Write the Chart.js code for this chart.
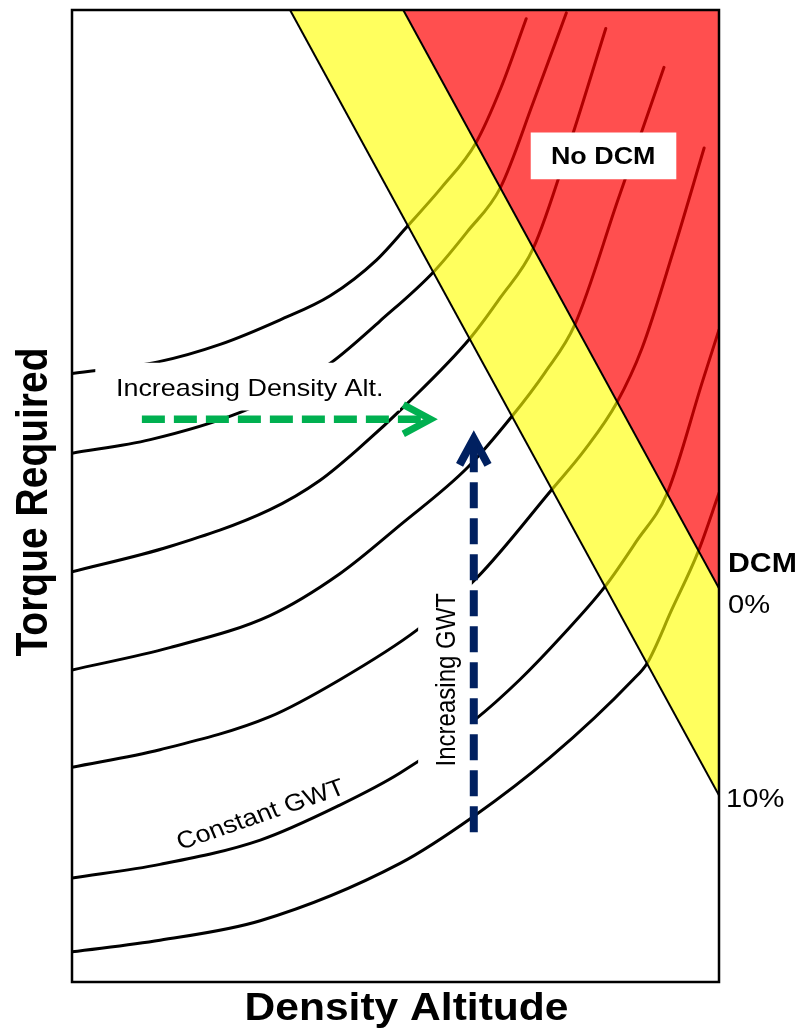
<!DOCTYPE html>
<html>
<head>
<meta charset="utf-8">
<script src="https://cdn.jsdelivr.net/npm/chart.js@4.4.1/dist/chart.umd.min.js"></script>
<style>
  html, body { margin: 0; padding: 0; background: #fff; }
  #chart { display: block; }
</style>
</head>
<body>
<canvas id="chart" width="802" height="1029"></canvas>
<script>
// Constant GWT curves (x = density altitude, y = torque required, both 0..100), heaviest on top
const gwt1 = [[0, 62.6], [13.3, 63.8], [22.9, 65.6], [32.1, 68.1], [39.9, 70.6], [47.1, 74.3], [51.9, 77.8], [57.2, 81.8], [62.4, 86.3], [66.3, 92.0], [70.2, 99.1]];
const gwt2 = [[0, 54.4], [12.1, 55.8], [26.0, 58.6], [33.7, 61.1], [40.2, 63.8], [47.6, 68.0], [55.8, 73.0], [61.1, 77.2], [66.2, 81.7], [71.3, 90.5], [76.4, 99.7]];
const gwt3 = [[0, 42.2], [15.1, 44.8], [30.6, 48.6], [38.3, 51.6], [44.5, 55.0], [51.8, 59.5], [61.5, 66.2], [66.2, 70.4], [71.3, 75.5], [77.0, 86.4], [82.5, 98.1]];
const gwt4 = [[0, 32.1], [15.1, 34.4], [30.6, 37.7], [41.4, 42.0], [50.7, 47.0], [61.1, 52.9], [68.0, 58.2], [73.1, 62.7], [77.7, 67.6], [84.4, 80.5], [91.5, 94.1]];
const gwt5 = [[0, 22.1], [13.6, 23.9], [30.6, 27.3], [41.4, 31.1], [53.3, 36.2], [62.6, 41.6], [74.2, 50.7], [79.3, 54.8], [84.2, 59.6], [88.1, 65.2], [92.9, 75.1], [97.7, 85.8]];
const gwt6 = [[0, 10.7], [13.6, 12.1], [29.1, 14.6], [41.4, 18.2], [50.7, 21.5], [62.3, 27.0], [69.2, 31.1], [75.7, 35.6], [82.4, 40.7], [87.2, 45.3], [92.0, 50.3], [97.5, 61.9], [100, 67.1]];
const gwt7 = [[0, 3.1], [13.6, 4.3], [29.1, 6.3], [50.7, 12.2], [62.0, 17.0], [73.9, 23.1], [86.7, 31.1], [88.9, 32.8], [92.7, 38.3], [96.8, 44.3], [100, 50.3]];
const gwtCurves = [gwt1, gwt2, gwt3, gwt4, gwt5, gwt6, gwt7];

// DCM band edges
const dcm10Edge = [[33.7, 100], [100, 19.2]];
const dcm0Edge = [[51.2, 100], [100, 40.5]];

// arrows
const densityArrow = [[10.8, 57.9], [54.8, 57.9]];
const densityHead = [[51.2, 59.4], [55.4, 57.9], [51.2, 56.4]];
const gwtArrow = [[62.1, 15.4], [62.1, 55.3]];
const gwtHead = [[59.9, 53.2], [62.1, 55.9], [64.3, 53.2]];

// text backgrounds [xMin, xMax, yMin, yMax]
const densityBox = [3.6, 50.7, 58.8, 63.7];
const gwtBox = [53.5, 61.8, 21.3, 41.3];
const noDcmBox = [70.9, 93.4, 82.6, 87.4];

const toPts = pts => pts.map(([x, y]) => ({x, y}));
const rect = b => [[b[0], b[2]], [b[1], b[2]], [b[1], b[3]], [b[0], b[3]]];

function line(pts, color, width, order, extra) {
    return Object.assign({
        data: toPts(pts),
        borderColor: color,
        borderWidth: width,
        pointRadius: 0,
        tension: 0,
        fill: false,
        order: order
    }, extra || {});
}

function shape(pts, color, order) {
    return line(pts, 'rgba(0,0,0,0)', 0, order, {backgroundColor: color, fill: 'shape'});
}

const datasets = [];
gwtCurves.forEach(c => datasets.push(line(c, '#000', 3, 9, {cubicInterpolationMode: 'monotone', borderCapStyle: 'round'})));
datasets.push(shape([dcm0Edge[0], [100, 100], dcm0Edge[1]], 'rgba(255,0,0,0.69)', 7));
datasets.push(shape([dcm10Edge[0], dcm0Edge[0], dcm0Edge[1], dcm10Edge[1]], 'rgba(255,255,0,0.63)', 7));
datasets.push(line(dcm10Edge, '#000', 2, 6));
datasets.push(line(dcm0Edge, '#000', 2, 6));
[densityBox, gwtBox, noDcmBox].forEach(b => datasets.push(shape(rect(b), '#fff', 5)));
datasets.push(line(densityArrow, '#00B050', 7.5, 2, {borderDash: [23, 9]}));
datasets.push(line(densityHead, '#00B050', 7, 2, {borderJoinStyle: 'miter'}));
datasets.push(line(gwtArrow, '#002060', 8, 2, {borderDash: [26, 10]}));
datasets.push(line(gwtHead, '#002060', 8, 2, {borderJoinStyle: 'miter'}));

const FONT = '"Liberation Sans", Arial, sans-serif';

function label(ctx, text, px, py, font, align, angle) {
    ctx.save();
    ctx.translate(px, py);
    ctx.scale(1.12, 1);
    ctx.rotate(angle || 0);
    ctx.font = font + ' ' + FONT;
    ctx.textAlign = align;
    ctx.textBaseline = 'alphabetic';
    ctx.fillStyle = '#000';
    ctx.fillText(text, 0, 0);
    ctx.restore();
}

const annotate = {
    id: 'annotate',
    afterDatasetsDraw(chart) {
        const {ctx, chartArea: a, scales: {x, y}} = chart;
        ctx.save();
        ctx.strokeStyle = '#000';
        ctx.lineWidth = 2.5;
        ctx.strokeRect(a.left, a.top, a.right - a.left, a.bottom - a.top);
        ctx.restore();

        label(ctx, 'Torque Required', a.left - 25, (a.top + a.bottom) / 2 + 6, 'bold 39px', 'center', -Math.PI / 2);
        label(ctx, 'Density Altitude', (a.left + a.right) / 2 + 11, a.bottom + 38, 'bold 38px', 'center');

        label(ctx, 'Increasing Density Alt.', x.getPixelForValue(6.8), y.getPixelForValue(60.3), '24px', 'left');
        label(ctx, 'Increasing GWT', x.getPixelForValue(59.2), y.getPixelForValue(31.1), '24px', 'center', -Math.PI / 2);
        label(ctx, 'Constant GWT', x.getPixelForValue(29.6), y.getPixelForValue(16.5), '24px', 'center', -21 * Math.PI / 180);
        label(ctx, 'No DCM', x.getPixelForValue(82.1), y.getPixelForValue(84.2), 'bold 24px', 'center');

        label(ctx, 'DCM', a.right + 9, y.getPixelForValue(42.2), 'bold 27px', 'left');
        label(ctx, '0%', a.right + 9, y.getPixelForValue(38.0), '26px', 'left');
        label(ctx, '10%', a.right + 7, y.getPixelForValue(18.0), '26px', 'left');
    }
};

new Chart(document.getElementById('chart'), {
    type: 'line',
    data: {datasets},
    options: {
        responsive: false,
        animation: false,
        layout: {padding: {left: 72, right: 83, top: 10, bottom: 47}},
        scales: {
            x: {type: 'linear', min: 0, max: 100, display: false},
            y: {type: 'linear', min: 0, max: 100, display: false}
        },
        plugins: {legend: {display: false}, tooltip: {enabled: false}}
    },
    plugins: [annotate]
});
</script>
</body>
</html>
